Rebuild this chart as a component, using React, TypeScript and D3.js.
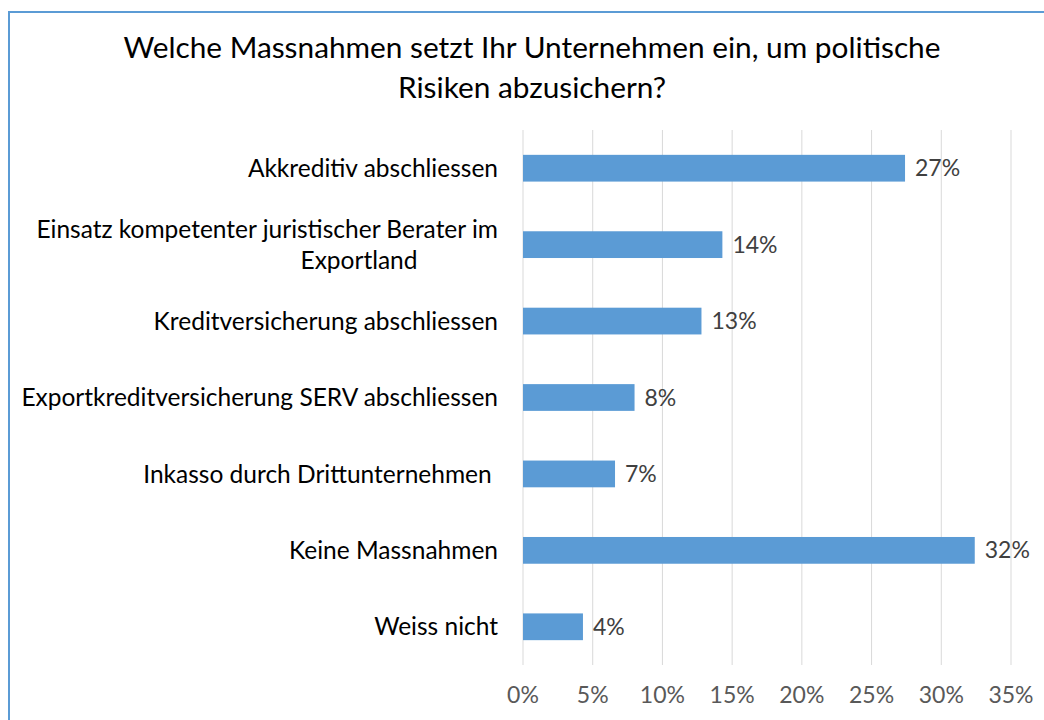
import * as d3 from 'd3'

const categories = [
  ['Akkreditiv abschliessen'],
  ['Einsatz kompetenter juristischer Berater im', 'Exportland'],
  ['Kreditversicherung abschliessen'],
  ['Exportkreditversicherung SERV abschliessen'],
  ['Inkasso durch Drittunternehmen '],
  ['Keine Massnahmen'],
  ['Weiss nicht'],
]
const values = [0.274, 0.143, 0.128, 0.08, 0.066, 0.324, 0.043]
const ticks = [0, 0.05, 0.1, 0.15, 0.2, 0.25, 0.3, 0.35]
const titleLines = [
  'Welche Massnahmen setzt Ihr Unternehmen ein, um politische',
  'Risiken abzusichern?',
]

const W = 1044
const H = 720
const FONT = 'Lato, sans-serif'
const BLUE = '#5b9bd5'

export default function App() {
  const plot = { left: 523, right: 1011, top: 130, bottom: 665 }
  const x = d3.scaleLinear().domain([0, 0.35]).range([plot.left, plot.right])
  const y = d3
    .scaleBand<number>()
    .domain(categories.map((_, i) => i))
    .range([plot.top, plot.bottom])
    .paddingInner(0.65)
    .paddingOuter(0.325)
  const fmt = (v: number) => `${Math.round(v * 100)}%`

  return (
    <svg
      width={W}
      height={H}
      style={{ position: 'absolute', left: 0, top: 0, background: '#fff' }}
      fontFamily={FONT}
    >
      <rect x={9} y={12} width={W} height={H} fill="#fff" stroke={BLUE} strokeWidth={2} />

      {/* title */}
      {titleLines.map((t, i) => (
        <text key={t} x={532} y={58 + i * 40} textAnchor="middle" fontSize={29.8} fill="#000">
          {t}
        </text>
      ))}

      {/* grid */}
      {ticks.map((t) => (
        <line key={t} x1={x(t)} x2={x(t)} y1={plot.top} y2={plot.bottom} stroke="#d9d9d9" strokeWidth={1} />
      ))}

      {/* bars */}
      {values.map((v, i) => (
        <g key={i}>
          <rect x={x(0)} y={y(i)} width={x(v) - x(0)} height={y.bandwidth()} fill={BLUE} />
          <text
            x={x(v) + 10}
            y={y(i)! + y.bandwidth() / 2}
            dy="0.35em"
            fontSize={23}
            fill="#404040"
          >
            {fmt(v)}
          </text>
        </g>
      ))}

      {/* category labels */}
      {categories.map((lines, i) => {
        const cy = y(i)! + y.bandwidth() / 2
        if (lines.length === 1) {
          return (
            <text key={i} x={498} y={cy} dy="0.35em" textAnchor="end" fontSize={24.5} fill="#000" style={{ whiteSpace: 'pre' }}>
              {lines[0]}
            </text>
          )
        }
        return (
          <g key={i}>
            <text x={498} y={cy - 15} dy="0.35em" textAnchor="end" fontSize={24.5} fill="#000">
              {lines[0]}
            </text>
            <text x={359} y={cy + 16} dy="0.35em" textAnchor="middle" fontSize={24.5} fill="#000">
              {lines[1]}
            </text>
          </g>
        )
      })}

      {/* x axis labels */}
      {ticks.map((t) => (
        <text key={t} x={x(t)} y={695} dy="0.35em" textAnchor="middle" fontSize={23} fill="#595959">
          {fmt(t)}
        </text>
      ))}
    </svg>
  )
}
